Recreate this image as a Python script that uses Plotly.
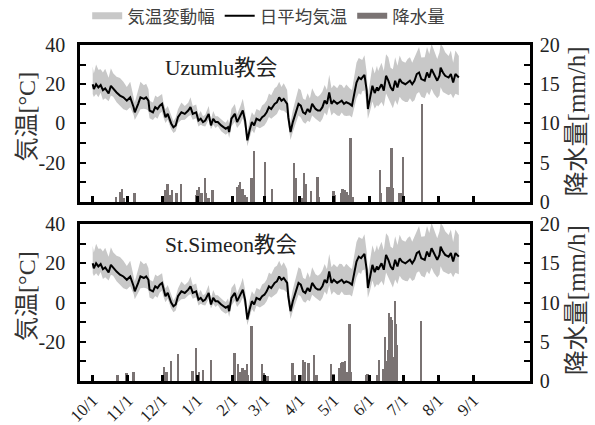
import pandas as pd
import plotly.graph_objects as go

# ---------------- data ----------------
base_date = "2012-10-01"
month_ticks = ["2012-10-01", "2012-11-01", "2012-12-01", "2013-01-01", "2013-02-01", "2013-03-01",
               "2013-04-01", "2013-05-01", "2013-06-01", "2013-07-01", "2013-08-01", "2013-09-01"]
month_labels = ["10/1", "11/1", "12/1", "1/1", "2/1", "3/1", "4/1", "5/1", "6/1", "7/1", "8/1", "9/1"]

# temperature (days after 10/1)
temp_days = [0, 1, 3, 5, 7, 9, 11, 14, 16, 18,
             21, 24, 27, 30, 33, 36, 37, 40, 42, 45,
             47, 49, 50, 53, 55, 57, 59, 61, 62, 64,
             66, 69, 71, 73, 75, 78, 81, 84, 86, 88,
             91, 93, 95, 97, 99, 102, 104, 106, 108, 110,
             113, 115, 117, 119, 120, 122, 125, 127, 130, 132,
             134, 136, 138, 140, 142, 144, 147, 149, 151, 153,
             155, 157, 160, 162, 164, 166, 168, 171, 172, 174,
             176, 179, 181, 183, 185, 187, 189, 191, 193, 196,
             198, 200, 202, 204, 206, 208, 210, 212, 215, 217,
             219, 221, 223, 226, 228, 230, 232, 234, 236, 237,
             239, 241, 242, 244, 246, 248, 250, 251, 254, 256,
             258, 260, 262, 264, 266, 268, 270, 272, 275, 277,
             279, 281, 283, 285, 287, 289, 292, 294, 296, 298,
             300, 303, 305, 306, 308, 310, 313, 315, 317, 319,
             322]
temp_mean = [20, 17.5, 20, 18.4, 19.6, 17, 17.9, 15.3, 19.2, 17.6,
             15.8, 14.2, 13.3, 11.6, 13.3, 8.3, 5.7, 10, 13.3, 12.5,
             13.3, 11.6, 6.6, 5.7, 8.3, 7.4, 9.1, 10, 7.4, 3.2,
             4.9, 0, -1.9, -1, 3.2, 5.7, 4.9, 6.6, 8.3, 4.9,
             5.7, 1.5, 2.4, 0.7, 1.5, 4.9, -1, 2.4, 0.7, 0.7,
             -1, -1.9, -2.7, -1.9, -4.4, 2.4, 4.9, 0.7, 4, 6.6,
             1.5, -8.6, -3.5, 0.7, -1, 2.4, 1.5, 3.2, 4, 5.7,
             8.3, 7.4, 10, 10.8, 13.3, 11.6, 12.5, 10, 3.2, -4.4,
             0.7, 5.7, 10, 9.1, 5.7, 4.9, 7.4, 5.7, 10, 7.4,
             6.6, 6.6, 8.3, 11.6, 10, 15.8, 10, 11.6, 10, 10.8,
             11.6, 10, 10.8, 10, 9.1, 15, 20.9, 23.4, 22.6, 23.4,
             24.8, 16.7, 7.4, 13.3, 19.2, 15.5, 18.4, 16.7, 20, 16.7,
             24.3, 21.8, 18.4, 16.7, 21.8, 18.4, 22.6, 20.9, 20, 20.9,
             21.8, 20, 21.8, 25.2, 26, 22.6, 21.8, 26, 23.4, 27.7,
             25.2, 21.8, 24.3, 28.5, 26, 24.3, 23.4, 25.2, 20.9, 25.2,
             23.4]
# daily max above mean / daily min below mean
temp_up = [9, 8, 10, 9, 8, 9, 10, 8, 9, 8,
           8, 9, 8, 7, 8, 6, 5, 7, 8, 7,
           7, 6, 5, 5, 6, 6, 5, 5, 4, 4,
           4, 4, 3, 4, 4, 5, 4, 4, 5, 4,
           4, 3, 4, 3, 3, 4, 3, 4, 3, 3,
           3, 3, 3, 4, 4, 5, 5, 4, 5, 6,
           5, 4, 5, 5, 5, 5, 5, 6, 6, 6,
           7, 7, 8, 8, 8, 7, 8, 7, 6, 5,
           6, 7, 8, 8, 7, 7, 8, 7, 8, 7,
           7, 8, 8, 8, 7, 9, 8, 8, 8, 9,
           8, 8, 9, 8, 8, 9, 10, 10, 10, 9,
           10, 9, 7, 9, 10, 10, 11, 10, 11, 10,
           11, 12, 10, 11, 12, 11, 12, 11, 11, 12,
           12, 11, 12, 12, 13, 11, 12, 13, 12, 13,
           12, 11, 12, 12, 13, 12, 11, 12, 10, 12,
           11]
temp_down = [5, 4, 5, 5, 4, 5, 5, 4, 5, 4,
             5, 5, 6, 5, 5, 4, 4, 5, 6, 5,
             6, 5, 4, 4, 5, 5, 4, 4, 4, 3,
             3, 3, 3, 3, 3, 4, 3, 3, 4, 3,
             3, 3, 3, 2, 3, 3, 2, 3, 3, 2,
             3, 3, 3, 3, 3, 4, 4, 3, 4, 4,
             4, 3, 4, 4, 4, 4, 4, 5, 5, 5,
             5, 5, 6, 6, 6, 5, 6, 5, 4, 4,
             5, 5, 6, 6, 5, 5, 6, 5, 6, 5,
             5, 6, 6, 6, 6, 7, 6, 6, 6, 7,
             6, 6, 7, 6, 6, 7, 8, 8, 8, 7,
             8, 7, 5, 7, 8, 8, 9, 8, 9, 8,
             9, 9, 8, 9, 10, 9, 9, 9, 9, 10,
             9, 9, 10, 10, 10, 9, 9, 10, 9, 10,
             10, 9, 10, 10, 10, 9, 9, 10, 8, 10,
             9]

# precipitation [mm/h]
rain1_days = [21, 24, 26, 28, 37, 64, 66, 68, 70, 74, 78, 91, 92, 94, 96, 99, 100, 102, 105, 106,
              127, 129, 130, 132, 134, 136, 140, 142, 152, 158, 177, 179, 184, 186, 188, 192, 198, 199,
              212, 213, 219, 220, 222, 224, 226, 227, 229, 253, 254, 259, 261, 263, 264, 270, 271, 273, 290]
rain1_vals = [0.6, 1.25, 1.7, 0.5, 1.1, 1.5, 2.3, 0.9, 1.5, 1.2, 2.3, 0.9, 1.5, 1.9, 1.1, 3.1, 1.1, 0.5, 1.5, 1.5,
              1.9, 2.1, 2.5, 1.7, 0.9, 0.6, 3.1, 6.5, 5.1, 1.7, 4.9, 3.1, 0.5, 3.7, 2.3, 1.4, 3.2, 0.6,
              1.4, 0.9, 1.1, 1.6, 1.5, 1.3, 0.9, 8.1, 0.6, 4.1, 1.1, 1.9, 1.9, 6.9, 1.8, 1.1, 1.1, 5.7, 12.5]

rain2_days = [22, 30, 36, 63, 65, 69, 75, 88, 91, 94, 97, 104, 125, 128, 130, 132, 134, 136, 137, 140,
              149, 151, 154, 176, 178, 183, 185, 187, 190, 195, 197, 210, 212, 217, 219, 220, 222, 224,
              226, 227, 241, 242, 250, 252, 256, 257, 258, 259, 260, 261, 262, 263, 264, 265, 266, 267,
              268, 289]
rain2_vals = [0.7, 1.0, 1.1, 1.8, 1.1, 2.5, 3.4, 1.3, 4.2, 1.2, 1.4, 2.7, 3.5, 2.2, 1.1, 1.6, 1.4, 2.1, 0.8, 7.0,
              2.1, 1.0, 0.6, 2.3, 0.8, 0.8, 2.7, 2.4, 2.3, 3.3, 0.7, 2.1, 0.9, 1.7, 2.3, 2.4, 2.6, 1.2,
              7.3, 1.2, 0.7, 0.9, 0.7, 2.7, 1.5, 5.6, 2.5, 1.8, 4.0, 8.6, 8.2, 7.8, 2.0, 3.0, 10.2, 7.2,
              4.6, 7.6]

site_names = ["Uzumlu教会", "St.Simeon教会"]
legend_names = ["気温変動幅", "日平均気温", "降水量"]
y_left_title = "気温[°C]"
y_right_title = "降水量[mm/h]"

# ---------------- derived ----------------
b = pd.Timestamp(base_date)
to_date = lambda ds: [b + pd.Timedelta(days=d) for d in ds]
t_x = to_date(temp_days)
t_hi = [m + u for m, u in zip(temp_mean, temp_up)]
t_lo = [m - d for m, d in zip(temp_mean, temp_down)]
rains = [(to_date(rain1_days), rain1_vals), (to_date(rain2_days), rain2_vals)]

BAND = "#c8c8c8"
BAR = "#7a7373"
SERIF = "Liberation Serif, Noto Sans CJK JP"
SANS = "Noto Sans CJK JP"

fig = go.Figure()

axes = [("x", "y", "y2"), ("x2", "y3", "y4")]
for i, (xa, ya, ya2) in enumerate(axes):
    fig.add_trace(go.Scatter(x=t_x, y=t_lo, mode="lines", line=dict(width=0, color=BAND),
                             showlegend=False, hoverinfo="skip", xaxis=xa, yaxis=ya))
    fig.add_trace(go.Scatter(x=t_x, y=t_hi, mode="lines", line=dict(width=0, color=BAND),
                             fill="tonexty", fillcolor=BAND, showlegend=False, xaxis=xa, yaxis=ya))
    fig.add_trace(go.Scatter(x=t_x, y=temp_mean, mode="lines", line=dict(width=2, color="black"),
                             showlegend=False, xaxis=xa, yaxis=ya))
    rx, rv = rains[i]
    fig.add_trace(go.Bar(x=rx, y=rv, marker=dict(color=BAR, line=dict(width=0)),
                         width=1.6 * 86400000, showlegend=False, xaxis=xa, yaxis=ya2))

# legend entries
for name, col, w in zip(legend_names, [BAND, "black", BAR], [7, 2, 6]):
    fig.add_trace(go.Scatter(x=[None], y=[None], mode="lines", line=dict(color=col, width=w),
                             name=name, xaxis="x", yaxis="y"))

top_dom = [0.533, 1.0]
bot_dom = [0.0, 0.467]
xr = ["2012-09-19T20:00", "2013-10-20T14:00"]

xcommon = dict(type="date", range=xr, showline=True, linewidth=2.5, linecolor="black", mirror=True,
               tickmode="array", tickvals=month_ticks, ticktext=month_labels, ticks="inside",
               ticklen=6, tickwidth=3, tickcolor="black", showgrid=False, zeroline=False,
               automargin=False, tickfont=dict(family=SERIF, size=17, color="#222"))
ylcommon = dict(range=[-40, 40], tickmode="array", tickvals=[-30, -20, -10, 0, 10, 20, 30, 40],
                ticktext=["", "-20", "", "0", "", "20", "", "40"], ticks="inside", ticklen=6,
                tickwidth=2, tickcolor="black", showline=True, linewidth=2.5, linecolor="black",
                showgrid=False, zeroline=False, automargin=False, ticklabelstandoff=8,
                tickfont=dict(family=SERIF, size=20, color="#222"))
yrcommon = dict(range=[0, 20], tickmode="array", tickvals=[0, 2.5, 5, 7.5, 10, 12.5, 15, 17.5, 20],
                ticktext=["0", "", "5", "", "10", "", "15", "", "20"], ticks="inside", ticklen=6,
                tickwidth=2, tickcolor="black", showline=True, linewidth=2.5, linecolor="black",
                showgrid=False, zeroline=False, side="right", automargin=False, ticklabelstandoff=3,
                tickfont=dict(family=SERIF, size=20, color="#222"))

fig.update_layout(
    width=595, height=425,
    margin=dict(l=80, r=65, t=45, b=44, autoexpand=False),
    paper_bgcolor="white", plot_bgcolor="white",
    xaxis=dict(**xcommon, anchor="y", domain=[0, 1], showticklabels=False),
    xaxis2=dict(**xcommon, anchor="y3", domain=[0, 1], tickangle=-45),
    yaxis=dict(**ylcommon, domain=top_dom, anchor="x"),
    yaxis2=dict(**yrcommon, domain=top_dom, anchor="x", overlaying="y"),
    yaxis3=dict(**ylcommon, domain=bot_dom, anchor="x2"),
    yaxis4=dict(**yrcommon, domain=bot_dom, anchor="x2", overlaying="y3"),
    bargap=0,
    showlegend=True,
    legend=dict(orientation="h", x=0.016, xanchor="left", y=1.140, yanchor="top",
                traceorder="normal",
                font=dict(family=SANS, size=17.5, color="#404040"), bgcolor="rgba(0,0,0,0)",
                tracegroupgap=0, itemwidth=30),
)

ann = []
for yc in [0.787, 0.253]:
    ann.append(dict(text=y_left_title, x=-0.118, y=yc, xref="paper", yref="paper", showarrow=False,
                    textangle=-90, font=dict(family=SERIF, size=24, color="#333"),
                    xanchor="center", yanchor="middle"))
for yc in [0.772, 0.240]:
    ann.append(dict(text=y_right_title, x=1.104, y=yc, xref="paper", yref="paper", showarrow=False,
                    textangle=-90, font=dict(family=SERIF, size=25, color="#333"),
                    xanchor="center", yanchor="middle"))
for name, yc in zip(site_names, [0.932, 0.405]):
    ann.append(dict(text=name, x=0.184, y=yc, xref="paper", yref="paper", showarrow=False,
                    font=dict(family=SERIF, size=21.5, color="#222"), xanchor="left", yanchor="middle"))
fig.update_layout(annotations=ann)

# remove the default 8px page margin so the figure fills the window exactly
fig.write_html("out.html", config={"displayModeBar": False},
               post_script="document.body.style.margin='0';document.body.style.overflow='hidden';")
